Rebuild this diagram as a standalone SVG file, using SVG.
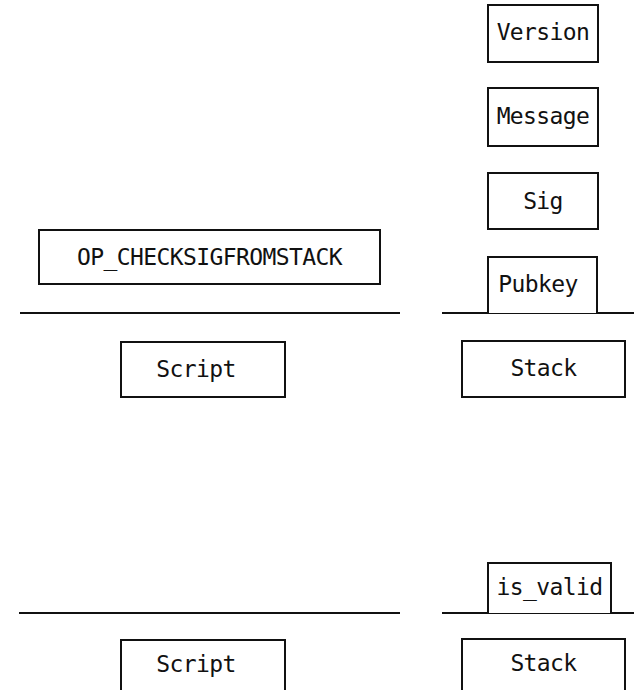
<svg xmlns="http://www.w3.org/2000/svg" width="634" height="690" viewBox="0 0 634 690">
  <style>
    .box { fill: #fff; stroke: #111; stroke-width: 2; }
    .rule { stroke: #111; stroke-width: 2; fill: none; }
    .lbl { font-family: "DejaVu Sans Mono", "Liberation Mono", monospace; font-size: 23px; letter-spacing: -0.6px; fill: #111; text-anchor: middle; }
  </style>
  <rect width="634" height="690" fill="#fff"/>

  <!-- base lines under script and stack -->
  <g id="connectors">
    <line class="rule" x1="20" y1="313" x2="400" y2="313"/>
    <line class="rule" x1="442" y1="313" x2="634" y2="313"/>
    <line class="rule" x1="19" y1="613" x2="400" y2="613"/>
    <line class="rule" x1="442" y1="613" x2="634" y2="613"/>
  </g>

  <!-- state before execution -->
  <g id="version">
    <rect class="box" x="488" y="5" width="110" height="57"/>
    <text class="lbl" x="543" y="40">Version</text>
  </g>
  <g id="message">
    <rect class="box" x="488" y="88" width="110" height="58"/>
    <text class="lbl" x="543" y="123.5">Message</text>
  </g>
  <g id="sig">
    <rect class="box" x="488" y="173" width="110" height="56"/>
    <text class="lbl" x="543" y="209">Sig</text>
  </g>
  <g id="pubkey">
    <path class="box" d="M488,313 V257 H597 V313"/>
    <text class="lbl" x="538" y="292">Pubkey</text>
  </g>
  <g id="op-checksigfromstack">
    <rect class="box" x="39" y="230" width="341" height="54"/>
    <text class="lbl" x="209.5" y="265">OP_CHECKSIGFROMSTACK</text>
  </g>
  <g id="script-1">
    <rect class="box" x="121" y="342" width="164" height="55"/>
    <text class="lbl" x="196" y="377">Script</text>
  </g>
  <g id="stack-1">
    <rect class="box" x="462" y="341" width="163" height="56"/>
    <text class="lbl" x="543.5" y="376">Stack</text>
  </g>

  <!-- state after execution -->
  <g id="is-valid">
    <path class="box" d="M488,613 V563 H611 V613"/>
    <text class="lbl" x="549.5" y="595">is_valid</text>
  </g>
  <g id="script-2">
    <rect class="box" x="121" y="640" width="164" height="60"/>
    <text class="lbl" x="196" y="672">Script</text>
  </g>
  <g id="stack-2">
    <rect class="box" x="462" y="639" width="163" height="60"/>
    <text class="lbl" x="543.5" y="671">Stack</text>
  </g>
</svg>
